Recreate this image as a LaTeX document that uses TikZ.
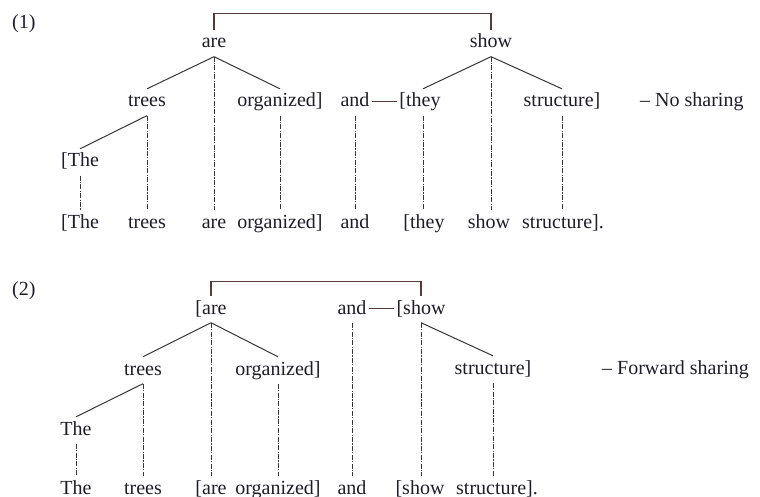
\documentclass[tikz,border=0pt]{standalone}
\usepackage{fontspec}
\setmainfont{Liberation Serif}
\begin{document}
\begin{tikzpicture}[x=1pt,y=-1pt,
  word/.style={anchor=base, inner xsep=2pt, inner ysep=4.5pt,
    text height=13.5pt, text depth=4pt, text=textcol,
    font=\fontsize{20}{22}\selectfont},
  tag/.style={anchor=base west, inner sep=0pt, text=textcol,
    font=\fontsize{20}{22}\selectfont},
  branch/.style={draw=branchcol, line width=1pt},
  link/.style={draw=branchcol, line width=0.85pt,
    dash pattern=on 5pt off 1.3pt on 1.2pt off 1.3pt},
  bracket/.style={draw=bracketcol, line width=1.1pt},
  conj/.style={draw=bracketcol, line width=1.1pt}]
\definecolor{textcol}{HTML}{1F1C28}
\definecolor{branchcol}{HTML}{363636}
\definecolor{bracketcol}{HTML}{553A3A}
\useasboundingbox (0,0) rectangle (760,497);

% ---------- (1) No sharing ----------
\node[tag] (n1) at (12,29) {(1)};
\node[word] (are1) at (214,48) {are};
\node[word] (show1) at (491,48) {show};
\node[word] (trees1) at (147,107) {trees};
\node[word] (org1) at (280,107) {organized]};
\node[word] (and1) at (355,107) {and};
\node[word] (they1) at (420,107) {[they};
\node[word] (str1) at (562,107) {structure]};
\node[tag] (lab1) at (640,107) {– No sharing};
\node[word] (the1) at (80,167) {[The};
% surface string
\node[word] (sThe1) at (80,228) {[The};
\node[word] (sTrees1) at (147,228) {trees};
\node[word] (sAre1) at (214,228) {are};
\node[word] (sOrg1) at (280,228) {organized]};
\node[word] (sAnd1) at (355,228) {and};
\node[word] (sThey1) at (424,228) {[they};
\node[word] (sShow1) at (489,228) {show};
\node[word] (sStr1) at (563,228) {structure].};

\draw[bracket] (are1.north) -- ++(0,-16) -| (show1.north);
\draw[conj] ([yshift=1pt]and1.east) -- ([yshift=1pt]they1.west);
\draw[branch] (are1.south) -- (trees1.north);
\draw[branch] (are1.south) -- (org1.north);
\draw[branch] (trees1.south) -- (the1.north);
\draw[branch] (show1.south) -- ([xshift=3pt]they1.north);
\draw[branch] (show1.south) -- (str1.north);
\draw[link] (are1.south) -- (are1.south |- sAre1.north);
\draw[link] (trees1.south) -- (trees1.south |- sTrees1.north);
\draw[link] (the1.south) -- (the1.south |- sThe1.north);
\draw[link] (org1.south) -- (org1.south |- sOrg1.north);
\draw[link] (and1.south) -- (and1.south |- sAnd1.north);
\draw[link] ([xshift=3pt]they1.south) -- ([xshift=3pt]they1.south |- sThey1.north);
\draw[link] (show1.south) -- (show1.south |- sShow1.north);
\draw[link] (str1.south) -- (str1.south |- sStr1.north);

% ---------- (2) Forward sharing ----------
\node[tag] (n2) at (12,295) {(2)};
\node[word] (are2) at (211,314) {[are};
\node[word] (and2) at (352,314) {and};
\node[word] (show2) at (421,314) {[show};
\node[word] (trees2) at (143,375) {trees};
\node[word] (org2) at (278,375) {organized]};
\node[word] (str2) at (493,374) {structure]};
\node[tag] (lab2) at (602,374) {– Forward sharing};
\node[word] (the2) at (76,435) {The};
% surface string
\node[word] (sThe2) at (76,494) {The};
\node[word] (sTrees2) at (143,494) {trees};
\node[word] (sAre2) at (211,494) {[are};
\node[word] (sOrg2) at (278,494) {organized]};
\node[word] (sAnd2) at (352,494) {and};
\node[word] (sShow2) at (420,494) {[show};
\node[word] (sStr2) at (497,494) {structure].};

\draw[bracket] (are2.north) -- ++(0,-14) -| (show2.north);
\draw[conj] ([yshift=1pt]and2.east) -- ([yshift=1pt]show2.west);
\draw[branch] (are2.south) -- (trees2.north);
\draw[branch] (are2.south) -- (org2.north);
\draw[branch] (trees2.south) -- (the2.north);
\draw[branch] (show2.south) -- (str2.north);
\draw[link] (are2.south) -- (are2.south |- sAre2.north);
\draw[link] (trees2.south) -- (trees2.south |- sTrees2.north);
\draw[link] (the2.south) -- (the2.south |- sThe2.north);
\draw[link] (org2.south) -- (org2.south |- sOrg2.north);
\draw[link] (and2.south) -- (and2.south |- sAnd2.north);
\draw[link] (show2.south) -- (show2.south |- sShow2.north);
\draw[link] (str2.south) -- (str2.south |- sStr2.north);
\end{tikzpicture}
\end{document}
